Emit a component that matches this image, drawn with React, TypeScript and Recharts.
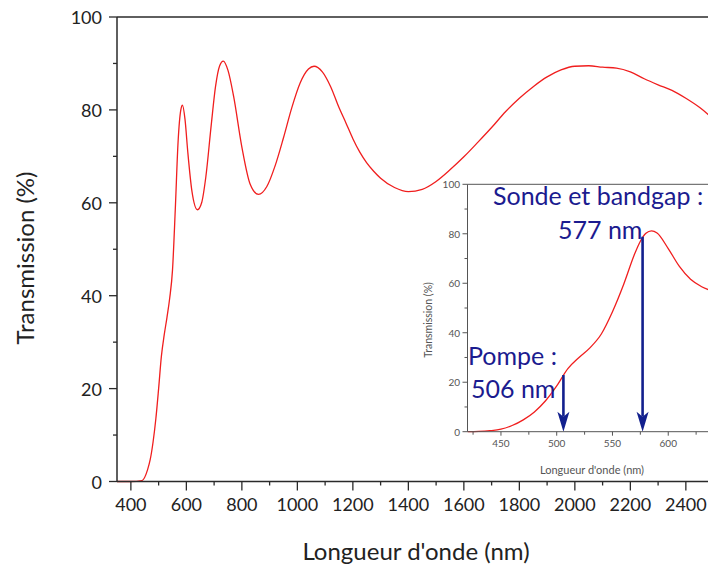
import { LineChart, Line, XAxis, YAxis, ReferenceLine } from "recharts";

// main spectrum
const MAIN_NM = [350, 400, 440, 460, 470, 480, 490, 500, 510, 520, 530, 540, 550, 560, 570, 580, 586, 595, 605, 620, 640, 655, 670, 690, 705, 720, 733, 750, 770, 800, 830, 860, 890, 920, 950, 980, 1010, 1040, 1060, 1090, 1120, 1150, 1175, 1200, 1225, 1250, 1275, 1300, 1350, 1400, 1450, 1500, 1550, 1600, 1650, 1700, 1750, 1800, 1850, 1900, 1950, 2000, 2050, 2100, 2150, 2200, 2250, 2300, 2350, 2400, 2450, 2500];
const MAIN_T = [0, 0, 0.2, 2.5, 4.8, 8.5, 13.5, 20, 27, 31.5, 35.3, 39.5, 45.5, 58.5, 73, 80, 81, 78, 71, 62.5, 58.5, 60, 65.5, 77, 85, 89.5, 90.5, 88.5, 83, 72, 64, 61.8, 63.5, 68, 74, 80.5, 85.8, 88.8, 89.4, 88.2, 85, 80.5, 77.2, 73.8, 70.9, 68.6, 66.8, 65.3, 63.3, 62.4, 62.9, 64.6, 67.1, 69.9, 73, 76.2, 79.6, 82.5, 85, 87.1, 88.6, 89.4, 89.5, 89.2, 89, 88.2, 86.7, 85.4, 84.2, 82.5, 80.5, 78];
const MAIN_X_TICKS = [400, 500, 600, 700, 800, 900, 1000, 1100, 1200, 1300, 1400, 1500, 1600, 1700, 1800, 1900, 2000, 2100, 2200, 2300, 2400];
const MAIN_Y_TICKS = [0, 10, 20, 30, 40, 50, 60, 70, 80, 90, 100];

// inset (zoom on the band edge)
const INSET_NM = [420, 430, 440, 450, 460, 470, 480, 490, 500, 510, 520, 530, 540, 550, 560, 570, 575, 580, 585, 590, 600, 610, 620, 630, 640, 650];
const INSET_T = [0, 0.1, 0.4, 1.0, 2.5, 4.8, 8.0, 12.5, 18.5, 25.5, 30.0, 34.0, 39.5, 48.5, 59.5, 72.0, 77.0, 80.2, 81.2, 80.3, 74.0, 66.8, 61.6, 58.6, 56.8, 55.8];
const INSET_X_TICKS = [425, 450, 475, 500, 525, 550, 575, 600, 625];
const INSET_Y_TICKS = [0, 10, 20, 30, 40, 50, 60, 70, 80, 90, 100];

// pump / probe arrows
const ARROW_NM = [506, 577];
const ARROW_TOP = [22.9, 78.8];

const RED = "#f01e1e";
const NAVY = "#1b1b8f";
const ARROW = "#12208e";
const AXIS = "#2a2a2a";
const GREY = "#555";

const mainData = MAIN_NM.map((nm, i) => ({ nm, t: MAIN_T[i] }));
const insetData = INSET_NM.map((nm, i) => ({ nm, t: INSET_T[i] }));

const MainYTick = (props: any) => {
  const { x, y, payload } = props;
  const major = payload.value % 20 === 0;
  const ax = x + 15;
  return (
    <g>
      <line x1={ax} x2={ax - (major ? 8 : 4)} y1={y} y2={y} stroke={AXIS} strokeWidth={1.3} />
      {major && (
        <text x={x} y={y} textAnchor="end" dominantBaseline="central" fontSize={18} fill="#222" fontFamily="Lato">
          {payload.value}
        </text>
      )}
    </g>
  );
};

const MainXTick = (props: any) => {
  const { x, y, payload } = props;
  const major = payload.value % 200 === 0;
  const ay = y - 22.5;
  return (
    <g>
      <line x1={x} x2={x} y1={ay} y2={ay + (major ? 9 : 4)} stroke={AXIS} strokeWidth={1.3} />
      {major && (
        <text x={x} y={y} textAnchor="middle" dominantBaseline="central" fontSize={18} fill="#222" fontFamily="Lato">
          {payload.value}
        </text>
      )}
    </g>
  );
};

const InsetYTick = (props: any) => {
  const { x, y, payload } = props;
  const major = payload.value % 20 === 0;
  const ax = x + 7.5;
  return (
    <g>
      <line x1={ax} x2={ax - (major ? 5 : 3)} y1={y} y2={y} stroke={GREY} strokeWidth={1} />
      {major && (
        <text x={x} y={y} textAnchor="end" dominantBaseline="central" fontSize={10} fill={GREY} fontFamily="Lato">
          {payload.value}
        </text>
      )}
    </g>
  );
};

const InsetXTick = (props: any) => {
  const { x, y, payload } = props;
  const major = payload.value % 50 === 0;
  const ay = y - 11.6;
  return (
    <g>
      <line x1={x} x2={x} y1={ay} y2={ay + (major ? 4 : 3)} stroke={GREY} strokeWidth={1} />
      {major && (
        <text x={x} y={y} textAnchor="middle" dominantBaseline="central" fontSize={10} fill={GREY} fontFamily="Lato">
          {payload.value}
        </text>
      )}
    </g>
  );
};

const Arrow = (props: any) => {
  const { x1, y1, x2, y2 } = props;
  const top = Math.min(y1, y2);
  const tip = Math.max(y1, y2);
  const head = 20;
  const half = 6;
  const notch = 5;
  return (
    <g>
      <line x1={x1} x2={x2} y1={top} y2={tip - head + notch} stroke={ARROW} strokeWidth={2.6} />
      <path
        d={`M${x2},${tip} L${x2 - half},${tip - head} L${x2},${tip - head + notch} L${x2 + half},${tip - head} Z`}
        fill={ARROW}
      />
    </g>
  );
};

const abs = (left: number, top: number, extra: any = {}) => ({
  position: "absolute" as const,
  left,
  top,
  whiteSpace: "nowrap" as const,
  ...extra,
});

export default function App() {
  return (
    <div
      style={{
        position: "fixed",
        left: 0,
        top: 0,
        width: 708,
        height: 570,
        overflow: "hidden",
        background: "#fff",
        fontFamily: "Lato, sans-serif",
      }}
    >
      <LineChart width={720} height={570} data={mainData} margin={{ top: 17, right: 6.4, bottom: 0, left: 0 }}>
        <XAxis
          dataKey="nm"
          type="number"
          domain={[350, 2500]}
          ticks={MAIN_X_TICKS}
          interval={0}
          allowDataOverflow
          height={88.5}
          tickSize={9}
          tickMargin={13.5}
          tickLine={false}
          tick={<MainXTick />}
          stroke={AXIS}
          strokeWidth={1.5}
        />
        <YAxis
          type="number"
          domain={[0, 100]}
          ticks={MAIN_Y_TICKS}
          interval={0}
          width={117}
          tickSize={8}
          tickMargin={7}
          tickLine={false}
          tick={<MainYTick />}
          stroke={AXIS}
          strokeWidth={1.5}
        />
        <ReferenceLine y={100} stroke={AXIS} strokeWidth={1.5} />
        <Line type="monotone" dataKey="t" stroke={RED} strokeWidth={1.3} dot={false} isAnimationActive={false} />
      </LineChart>

      <div style={abs(400, 170)}>
        <LineChart width={330} height={310} data={insetData} margin={{ top: 14.3, right: 6, bottom: 0, left: 0 }}>
          <XAxis
            dataKey="nm"
            type="number"
            domain={[420, 650]}
            ticks={INSET_X_TICKS}
            interval={0}
            allowDataOverflow
            height={48.3}
            tickSize={5}
            tickMargin={6.6}
            tickLine={false}
            tick={<InsetXTick />}
            stroke={GREY}
            strokeWidth={1}
          />
          <YAxis
            type="number"
            domain={[0, 100]}
            ticks={INSET_Y_TICKS}
            interval={0}
            width={67.5}
            tickSize={5}
            tickMargin={2.5}
            tickLine={false}
            tick={<InsetYTick />}
            stroke={GREY}
            strokeWidth={1}
          />
          <ReferenceLine y={100} stroke={GREY} strokeWidth={1} />
          <Line type="monotone" dataKey="t" stroke={RED} strokeWidth={1.3} dot={false} isAnimationActive={false} />
          {ARROW_NM.map((nm, i) => (
            <ReferenceLine
              key={nm}
              segment={[
                { x: nm, y: ARROW_TOP[i] },
                { x: nm, y: 0 },
              ]}
              shape={<Arrow />}
            />
          ))}
        </LineChart>
      </div>

      {/* axis titles */}
      <div style={abs(416, 539, { transform: "translateX(-50%)", fontSize: 24, lineHeight: "24px", color: "#222" })}>
        Longueur d'onde (nm)
      </div>
      <div
        style={abs(25, 258.3, {
          transform: "translate(-50%, -50%) rotate(-90deg)",
          fontSize: 24,
          lineHeight: "24px",
          color: "#222",
        })}
      >
        Transmission (%)
      </div>
      <div style={abs(592, 464, { transform: "translateX(-50%)", fontSize: 11, lineHeight: "11px", color: GREY })}>
        Longueur d'onde (nm)
      </div>
      <div
        style={abs(428, 320, {
          transform: "translate(-50%, -50%) rotate(-90deg)",
          fontSize: 10.5,
          lineHeight: "11px",
          color: GREY,
        })}
      >
        Transmission (%)
      </div>

      {/* annotations */}
      <div style={abs(493, 183, { fontSize: 25, lineHeight: "25px", color: NAVY })}>Sonde et bandgap :</div>
      <div style={abs(558, 217, { fontSize: 25, lineHeight: "25px", color: NAVY })}>577 nm</div>
      <div style={abs(468, 343, { fontSize: 25, lineHeight: "25px", color: NAVY })}>Pompe :</div>
      <div style={abs(471, 376, { fontSize: 25, lineHeight: "25px", color: NAVY })}>506 nm</div>
    </div>
  );
}
